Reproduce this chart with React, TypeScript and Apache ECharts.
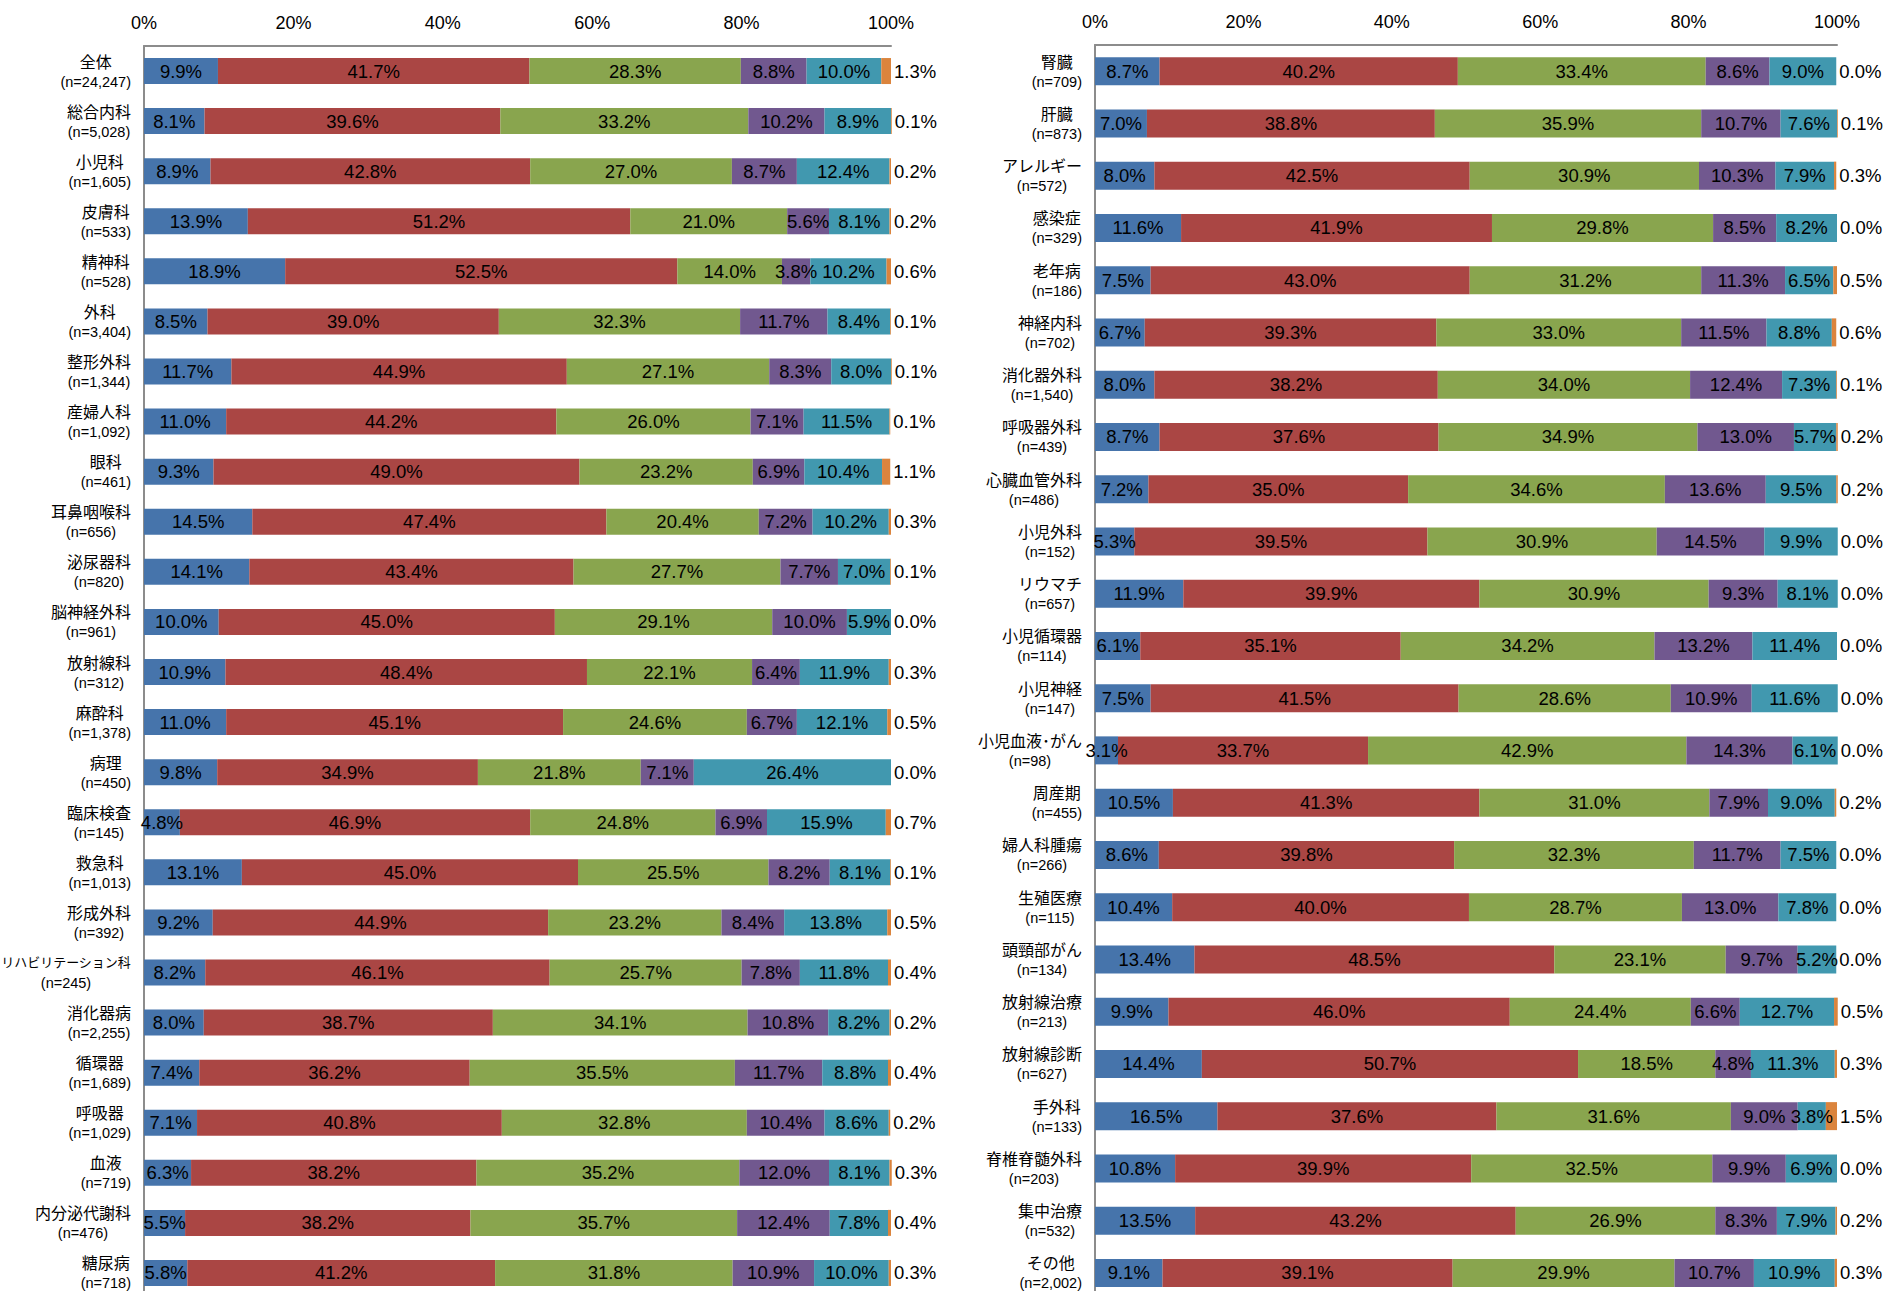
import React, { useEffect, useRef } from "react";
import * as echarts from "echarts";

// ---------- Left panel data ----------
const leftNames = [
  "全体", "総合内科", "小児科", "皮膚科", "精神科", "外科", "整形外科", "産婦人科", "眼科",
  "耳鼻咽喉科", "泌尿器科", "脳神経外科", "放射線科", "麻酔科", "病理", "臨床検査", "救急科",
  "形成外科", "リハビリテーション科", "消化器病", "循環器", "呼吸器", "血液", "内分泌代謝科", "糖尿病",
];
const leftCounts = [
  "24,247", "5,028", "1,605", "533", "528", "3,404", "1,344", "1,092", "461",
  "656", "820", "961", "312", "1,378", "450", "145", "1,013",
  "392", "245", "2,255", "1,689", "1,029", "719", "476", "718",
];
const leftS1 = [9.9, 8.1, 8.9, 13.9, 18.9, 8.5, 11.7, 11.0, 9.3, 14.5, 14.1, 10.0, 10.9, 11.0, 9.8, 4.8, 13.1, 9.2, 8.2, 8.0, 7.4, 7.1, 6.3, 5.5, 5.8];
const leftS2 = [41.7, 39.6, 42.8, 51.2, 52.5, 39.0, 44.9, 44.2, 49.0, 47.4, 43.4, 45.0, 48.4, 45.1, 34.9, 46.9, 45.0, 44.9, 46.1, 38.7, 36.2, 40.8, 38.2, 38.2, 41.2];
const leftS3 = [28.3, 33.2, 27.0, 21.0, 14.0, 32.3, 27.1, 26.0, 23.2, 20.4, 27.7, 29.1, 22.1, 24.6, 21.8, 24.8, 25.5, 23.2, 25.7, 34.1, 35.5, 32.8, 35.2, 35.7, 31.8];
const leftS4 = [8.8, 10.2, 8.7, 5.6, 3.8, 11.7, 8.3, 7.1, 6.9, 7.2, 7.7, 10.0, 6.4, 6.7, 7.1, 6.9, 8.2, 8.4, 7.8, 10.8, 11.7, 10.4, 12.0, 12.4, 10.9];
const leftS5 = [10.0, 8.9, 12.4, 8.1, 10.2, 8.4, 8.0, 11.5, 10.4, 10.2, 7.0, 5.9, 11.9, 12.1, 26.4, 15.9, 8.1, 13.8, 11.8, 8.2, 8.8, 8.6, 8.1, 7.8, 10.0];
const leftS6 = [1.3, 0.1, 0.2, 0.2, 0.6, 0.1, 0.1, 0.1, 1.1, 0.3, 0.1, 0.0, 0.3, 0.5, 0.0, 0.7, 0.1, 0.5, 0.4, 0.2, 0.4, 0.2, 0.3, 0.4, 0.3];

// ---------- Right panel data ----------
const rightNames = [
  "腎臓", "肝臓", "アレルギー", "感染症", "老年病", "神経内科", "消化器外科", "呼吸器外科",
  "心臓血管外科", "小児外科", "リウマチ", "小児循環器", "小児神経", "小児血液･がん", "周産期",
  "婦人科腫瘍", "生殖医療", "頭頸部がん", "放射線治療", "放射線診断", "手外科", "脊椎脊髄外科",
  "集中治療", "その他",
];
const rightCounts = [
  "709", "873", "572", "329", "186", "702", "1,540", "439",
  "486", "152", "657", "114", "147", "98", "455",
  "266", "115", "134", "213", "627", "133", "203",
  "532", "2,002",
];
const rightS1 = [8.7, 7.0, 8.0, 11.6, 7.5, 6.7, 8.0, 8.7, 7.2, 5.3, 11.9, 6.1, 7.5, 3.1, 10.5, 8.6, 10.4, 13.4, 9.9, 14.4, 16.5, 10.8, 13.5, 9.1];
const rightS2 = [40.2, 38.8, 42.5, 41.9, 43.0, 39.3, 38.2, 37.6, 35.0, 39.5, 39.9, 35.1, 41.5, 33.7, 41.3, 39.8, 40.0, 48.5, 46.0, 50.7, 37.6, 39.9, 43.2, 39.1];
const rightS3 = [33.4, 35.9, 30.9, 29.8, 31.2, 33.0, 34.0, 34.9, 34.6, 30.9, 30.9, 34.2, 28.6, 42.9, 31.0, 32.3, 28.7, 23.1, 24.4, 18.5, 31.6, 32.5, 26.9, 29.9];
const rightS4 = [8.6, 10.7, 10.3, 8.5, 11.3, 11.5, 12.4, 13.0, 13.6, 14.5, 9.3, 13.2, 10.9, 14.3, 7.9, 11.7, 13.0, 9.7, 6.6, 4.8, 9.0, 9.9, 8.3, 10.7];
const rightS5 = [9.0, 7.6, 7.9, 8.2, 6.5, 8.8, 7.3, 5.7, 9.5, 9.9, 8.1, 11.4, 11.6, 6.1, 9.0, 7.5, 7.8, 5.2, 12.7, 11.3, 3.8, 6.9, 7.9, 10.9];
const rightS6 = [0.0, 0.1, 0.3, 0.0, 0.5, 0.6, 0.1, 0.2, 0.2, 0.0, 0.0, 0.0, 0.0, 0.0, 0.2, 0.0, 0.0, 0.0, 0.5, 0.3, 1.5, 0.0, 0.2, 0.3];

const xTicks = [0, 20, 40, 60, 80, 100];

const colors = ["#4674AB", "#AA4644", "#89A54E", "#71588F", "#4198AF", "#DB843D"];
const NUM_FONT = "'Liberation Sans', Arial, 'DejaVu Sans', sans-serif";
const CJK_FONT = "'Noto Sans CJK JP', 'Noto Sans CJK SC', sans-serif";

function buildPanel(
  idx: number,
  names: string[],
  counts: string[],
  seriesData: number[][],
  barWidth: number
) {
  const categories = names.map((n, i) => n + "\n(n=" + counts[i] + ")");
  const xAxis = {
    type: "value",
    gridIndex: idx,
    position: "top",
    min: xTicks[0],
    max: xTicks[xTicks.length - 1],
    interval: xTicks[1] - xTicks[0],
    axisLine: { show: true, lineStyle: { color: "#8C8C8C", width: 2 } },
    axisTick: { show: false },
    splitLine: { show: false },
    axisLabel: {
      formatter: "{value}%",
      fontSize: 18,
      fontFamily: NUM_FONT,
      color: "#000",
      margin: 14,
    },
  };
  const yAxis = {
    type: "category",
    gridIndex: idx,
    inverse: true,
    data: categories,
    axisLine: { show: true, lineStyle: { color: "#8C8C8C", width: 2 } },
    axisTick: { show: false },
    splitLine: { show: false },
    axisLabel: {
      margin: 13,
      align: "right",
      interval: 0,
      formatter: (v: string) => {
        const parts = v.split("\n");
        const key = parts[0].length > 8 ? "s" : "a";
        return "{" + key + "|" + parts[0] + "}\n{b|" + parts[1] + "}";
      },
      rich: {
        a: { fontSize: 16, fontFamily: CJK_FONT, color: "#000", align: "center", lineHeight: 21 },
        s: { fontSize: 13, fontFamily: CJK_FONT, color: "#000", align: "center", lineHeight: 21 },
        b: { fontSize: 14.5, fontFamily: NUM_FONT, color: "#000", align: "center", lineHeight: 21 },
      },
    },
  };
  const series = seriesData.map((d, si) => ({
    type: "bar",
    xAxisIndex: idx,
    yAxisIndex: idx,
    stack: "p" + idx,
    barWidth,
    clip: false,
    data: d,
    itemStyle: { color: colors[si] },
    label: {
      show: true,
      position: si === 5 ? "right" : "inside",
      distance: 3,
      formatter: (p: any) => Number(p.value).toFixed(1) + "%",
      fontSize: 18.5,
      fontFamily: NUM_FONT,
      color: "#000",
    },
    silent: true,
  }));
  return { xAxis, yAxis, series };
}

export default function App() {
  const ref = useRef<HTMLDivElement>(null);
  useEffect(() => {
    if (!ref.current) return;
    const chart = echarts.init(ref.current, undefined, { renderer: "svg" });
    const L = buildPanel(0, leftNames, leftCounts, [leftS1, leftS2, leftS3, leftS4, leftS5, leftS6], 26);
    const R = buildPanel(1, rightNames, rightCounts, [rightS1, rightS2, rightS3, rightS4, rightS5, rightS6], 28);
    chart.setOption({
      animation: false,
      backgroundColor: "#fff",
      grid: [
        { left: 144, top: 46, width: 747, height: 1252, containLabel: false, outerBoundsMode: "none" },
        { left: 1095, top: 45, width: 742, height: 1254, containLabel: false, outerBoundsMode: "none" },
      ],
      xAxis: [L.xAxis, R.xAxis],
      yAxis: [L.yAxis, R.yAxis],
      series: [...L.series, ...R.series],
    });
    return () => chart.dispose();
  }, []);
  return (
    <div
      ref={ref}
      style={{ position: "fixed", left: 0, top: 0, width: 1889, height: 1291, background: "#fff" }}
    />
  );
}
